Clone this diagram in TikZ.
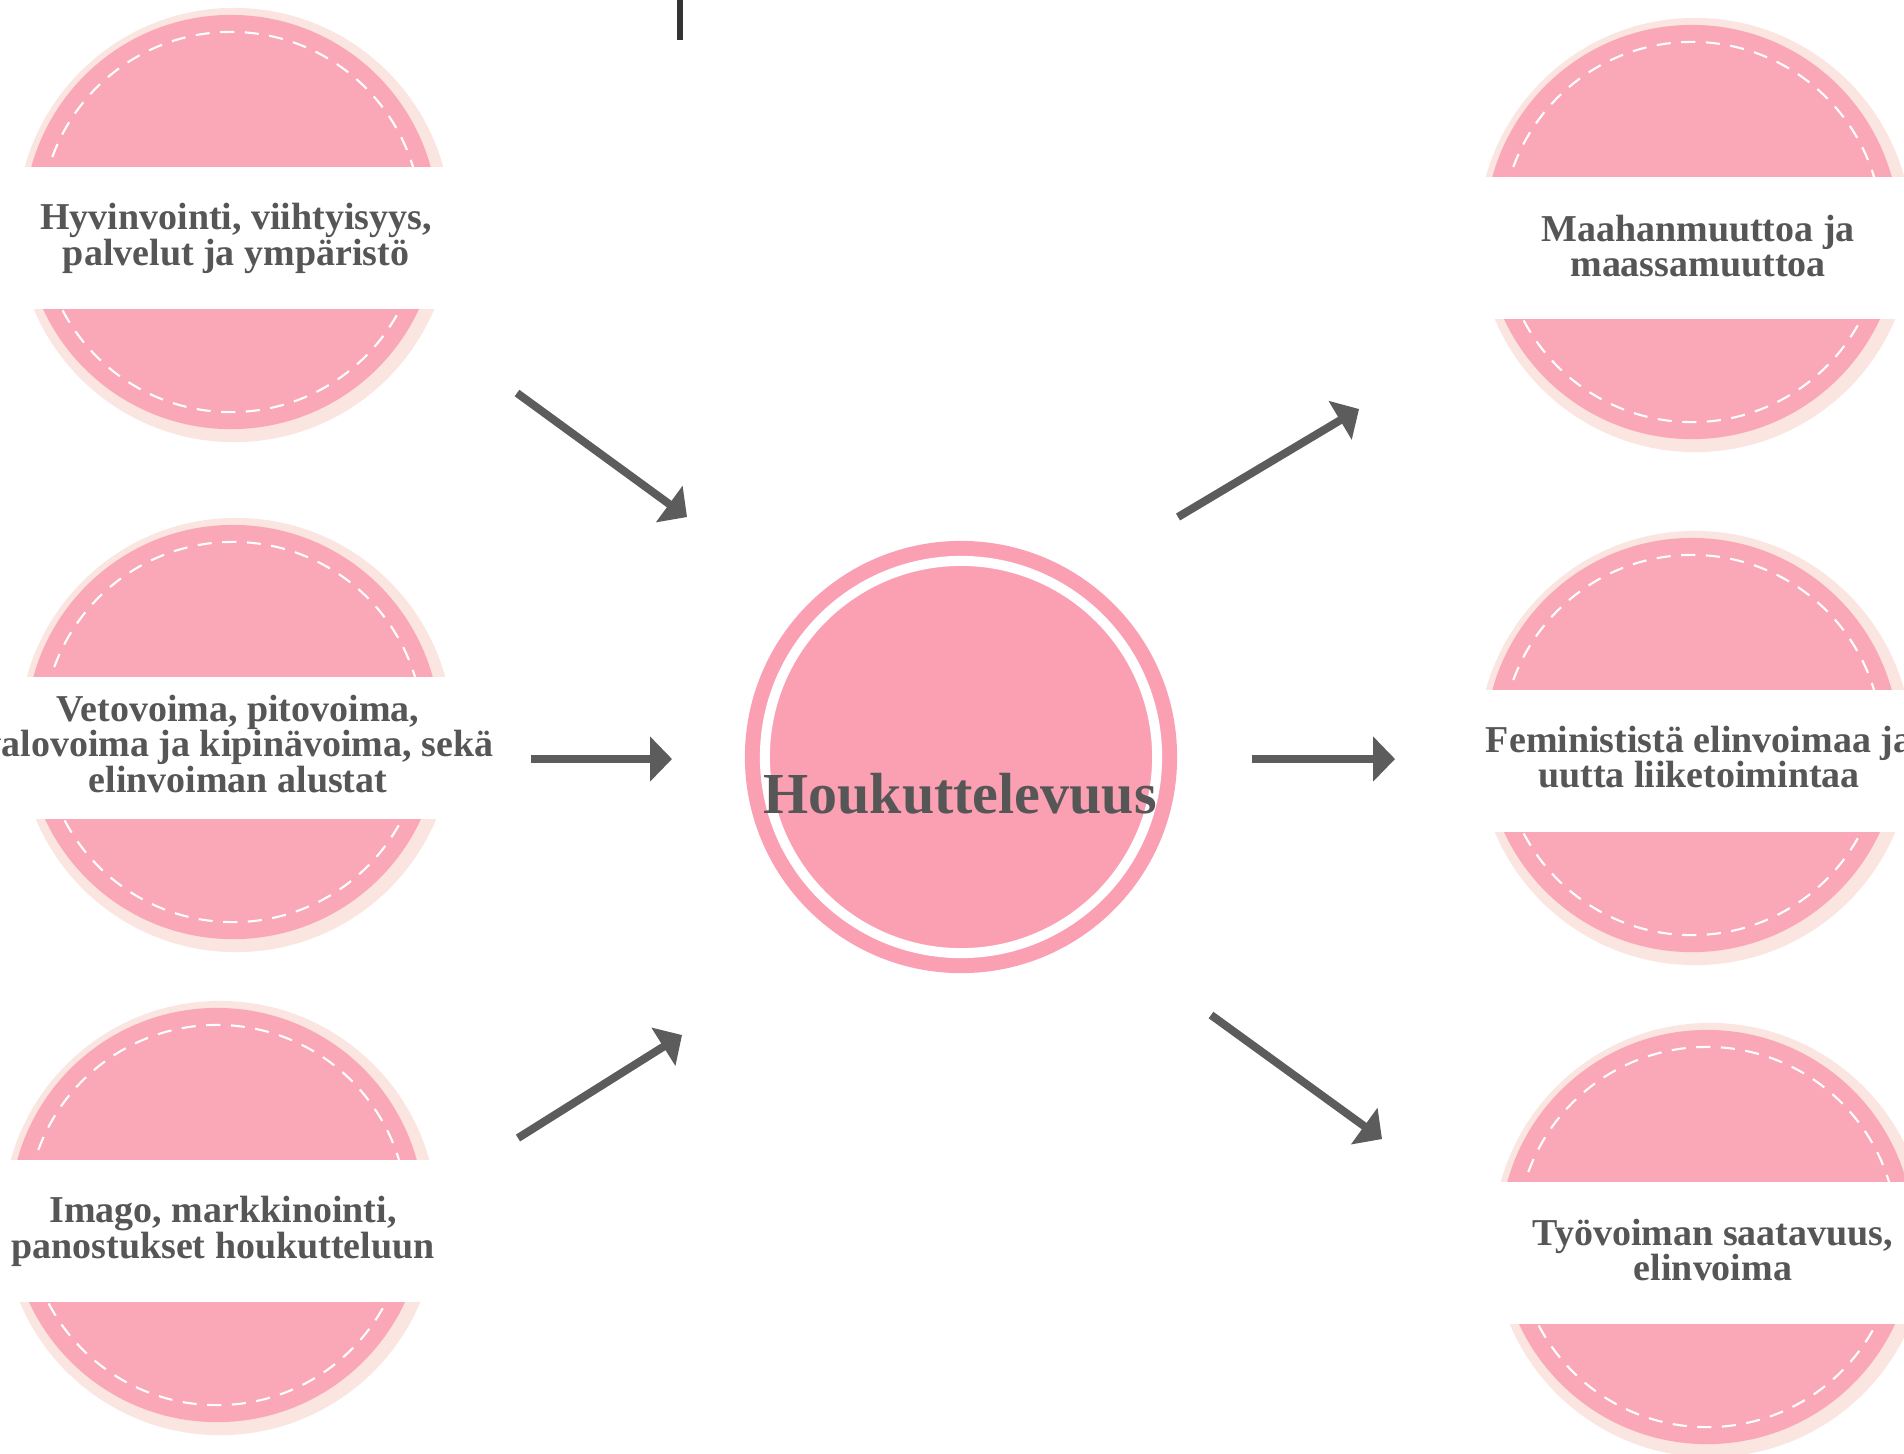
\documentclass[tikz,border=0pt]{standalone}
\usepackage{fontspec}
\setmainfont{Liberation Serif}
\usepackage{tikz}
\usetikzlibrary{positioning}
\usetikzlibrary{arrows.meta}
\definecolor{rosepink}{HTML}{FAA8B8}
\definecolor{blush}{HTML}{FBE5E1}
\definecolor{corepink}{HTML}{FB9FB3}
\definecolor{inkgrey}{HTML}{565656}
\definecolor{arrowgrey}{HTML}{5C5C5C}
\tikzset{
    pale/.style={circle, fill=blush, inner sep=0pt, minimum size=4.34cm},
    disc/.style={circle, fill=rosepink, inner sep=0pt, minimum size=4.14cm},
    seam/.style={circle, draw=white, line width=0.6pt, dash pattern=on 4pt off 3pt, inner sep=0pt, minimum size=3.8cm},
    band/.style={rectangle, fill=white, inner sep=0pt, minimum width=4.5cm, minimum height=1.41cm},
    bandtext/.style={align=center, text=inkgrey, inner sep=0pt, font=\bfseries\fontsize{10.8}{10.2}\selectfont},
    core/.style={circle, fill=corepink, inner sep=0pt, minimum size=4.32cm},
    ring/.style={circle, draw=white, line width=0.1cm, inner sep=0pt, minimum size=3.92cm},
    flow/.style={draw=arrowgrey, line width=0.08cm, -{Triangle[length=0.22cm, width=0.44cm]}}
}

\begin{document}
\begin{tikzpicture}[x=0.01cm, y=-0.01cm]
    \useasboundingbox (0,0) rectangle (1904,1453);
    \foreach \nm/\cx/\cy in {hyv/231/222, veto/233/732, imago/217/1215, maah/1692/232, femi/1692/745, tyov/1707/1237} {
        \node[pale] (\nm-back) at (\cx+3,\cy+3) {};
        \node[disc] (\nm) at (\cx,\cy) {};
        \node[seam] at (\nm) {};
        \node[band] (\nm-band) at (\cx,\cy+16) {};
    }
    \node[bandtext] (hyv-text) at (236,238) {Hyvinvointi, viihtyisyys,\\palvelut ja ympäristö};
    \node[bandtext] (veto-text) at (238,744) {Vetovoima, pitovoima,\\valovoima ja kipinävoima, sekä\\elinvoiman alustat};
    \node[bandtext] (imago-text) at (223,1231) {Imago, markkinointi,\\panostukset houkutteluun};
    \node[bandtext] (maah-text) at (1698,246) {Maahanmuuttoa ja\\maassamuuttoa};
    \node[bandtext] (femi-text) at (1699,757) {Feminististä elinvoimaa ja\\uutta liiketoimintaa};
    \node[bandtext] (tyov-text) at (1713,1250) {Työvoiman saatavuus,\\elinvoima};

    \node[core] (houk) at (961,757) {};
    \node[ring] at (houk) {};
    \node[anchor=base, text=inkgrey, font=\bfseries\fontsize{16.5}{18}\selectfont] (houk-text) at (960,813) {Houkuttelevuus};

    \coordinate (hyv-out) at (517,393);
    \coordinate (hyv-in) at (687,517);
    \coordinate (veto-out) at (531,759);
    \coordinate (veto-in) at (672,759);
    \coordinate (imago-out) at (518,1138);
    \coordinate (imago-in) at (682,1035);
    \coordinate (maah-out) at (1178,517);
    \coordinate (maah-in) at (1359,409);
    \coordinate (femi-out) at (1252,759);
    \coordinate (femi-in) at (1395,759);
    \coordinate (tyov-out) at (1211,1015);
    \coordinate (tyov-in) at (1382,1139);
    \draw[flow] (hyv-out) -- (hyv-in);
    \draw[flow] (veto-out) -- (veto-in);
    \draw[flow] (imago-out) -- (imago-in);
    \draw[flow] (maah-out) -- (maah-in);
    \draw[flow] (femi-out) -- (femi-in);
    \draw[flow] (tyov-out) -- (tyov-in);

    \coordinate (tick-top) at (680,0);
    \coordinate (tick-end) at (680,40);
    \draw[draw=black!80, line width=0.06cm] (tick-top) -- (tick-end);
\end{tikzpicture}
\end{document}
